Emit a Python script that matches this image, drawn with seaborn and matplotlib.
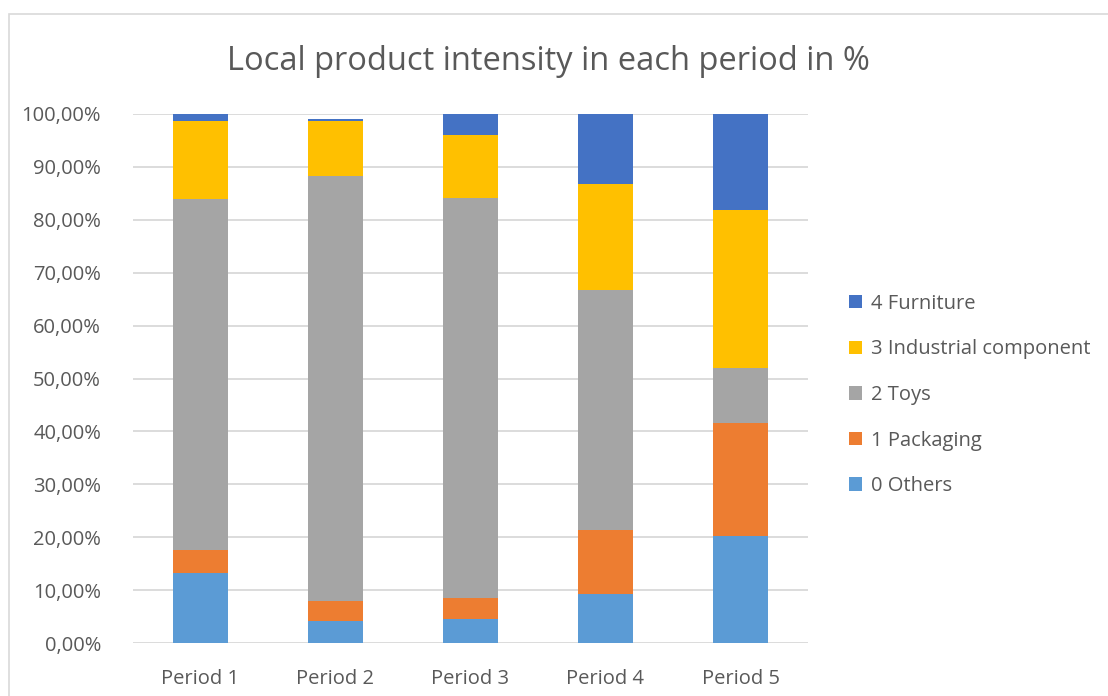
import numpy as np
import pandas as pd
import matplotlib
matplotlib.use("Agg")
import matplotlib.pyplot as plt
import seaborn as sns
from matplotlib.patches import Rectangle
from matplotlib.ticker import FuncFormatter

# values (share in %, per period)
periods = ["Period 1", "Period 2", "Period 3", "Period 4", "Period 5"]
others = [13.3, 4.2, 4.5, 9.3, 20.2]
packaging = [4.2, 3.7, 4.1, 12.0, 21.3]
toys = [66.4, 80.4, 75.6, 45.4, 10.5]
industrial = [14.8, 10.4, 11.8, 20.0, 29.9]
furniture = [1.3, 0.3, 4.0, 13.3, 18.1]

series_names = ["0 Others", "1 Packaging", "2 Toys", "3 Industrial component", "4 Furniture"]
series_colors = ["#5b9bd5", "#ed7d31", "#a5a5a5", "#ffc000", "#4472c4"]

df = pd.DataFrame({"period": periods, "0 Others": others, "1 Packaging": packaging,
                   "2 Toys": toys, "3 Industrial component": industrial,
                   "4 Furniture": furniture})

sns.set_theme(style="white")
plt.rcParams["font.family"] = ["Open Sans", "DejaVu Sans"]
txt = "#595959"

fig = plt.figure(figsize=(11.08, 6.96), dpi=100)
ax = fig.add_axes([133 / 1108, 1 - 643 / 696, 675 / 1108, (643 - 114) / 696])

# stacked bars: draw cumulative totals from the top series down
cum = df[series_names].cumsum(axis=1)
for name, col in zip(series_names[::-1], series_colors[::-1]):
    sns.barplot(x=df["period"], y=cum[name], color=col, width=0.41,
                label=name, ax=ax, zorder=3, saturation=1, linewidth=0)

ax.set_ylim(0, 100)
ax.set_xlim(-0.5, 4.5)
ax.set_yticks(np.arange(0, 101, 10))
ax.yaxis.set_major_formatter(FuncFormatter(lambda v, p: f"{v:.2f}%".replace(".", ",")))
ax.grid(axis="y", color="#d9d9d9", linewidth=1.3, zorder=0)
ax.grid(axis="x", visible=False)
for s in ax.spines.values():
    s.set_visible(False)
ax.set_xlabel("")
ax.set_ylabel("")
ax.tick_params(axis="both", length=0, labelsize=14.5, colors=txt)
ax.tick_params(axis="y", pad=23)
ax.tick_params(axis="x", pad=19)

fig.text(548 / 1108, 1 - 62 / 696, "Local product intensity in each period in %",
         ha="center", va="center", fontsize=23.5, color=txt)

leg = ax.legend(loc="center left", frameon=False,
                fontsize=14.5, labelcolor=txt, handlelength=0.65, handleheight=0.65,
                handletextpad=0.45, labelspacing=1.27, borderpad=0, borderaxespad=0)
leg.set_bbox_to_anchor((849 / 1108, 1 - 395 / 696), transform=fig.transFigure)

fig.patches.append(Rectangle((9 / 1108, -0.05), 1.2, 1 - 14 / 696 + 0.05, transform=fig.transFigure,
                             fill=False, edgecolor="#d9d9d9", linewidth=1.2))

fig.savefig("out.png", dpi=100, facecolor="white")
